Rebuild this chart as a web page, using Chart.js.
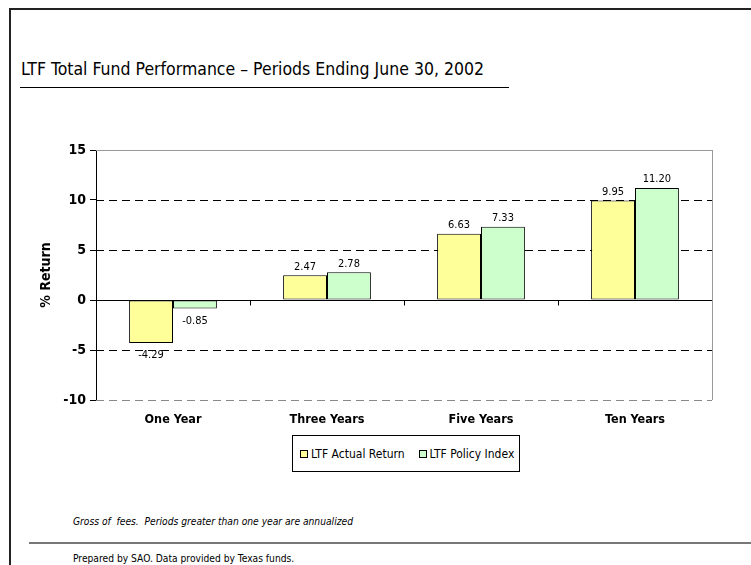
<!DOCTYPE html>
<html>
<head>
<meta charset="utf-8">
<script src="https://cdn.jsdelivr.net/npm/chart.js@4/dist/chart.umd.min.js"></script>
<style>
  html, body { margin: 0; padding: 0; background: #fff; }
  body { width: 751px; height: 565px; position: relative; overflow: hidden;
         font-family: "DejaVu Sans Condensed", "DejaVu Sans", sans-serif; color: #000; }
  .frame { position: absolute; left: 9px; top: 8px; right: -4px; bottom: -4px;
           border-left: 2px solid #222; border-top: 2px solid #222; }
  .title { position: absolute; left: 21px; top: 59px; font-size: 17.5px; white-space: nowrap; }
  .title-rule { position: absolute; left: 20px; top: 87px; width: 489px; height: 1px; background: #000; }
  #chart-wrap { position: absolute; left: 0; top: 120px; width: 751px; height: 310px; }
  .legend { position: absolute; left: 292px; top: 435px; width: 228px; height: 37px;
            border: 1px solid #000; box-sizing: border-box; font-size: 12px;
            display: flex; align-items: center; padding-left: 7px; white-space: nowrap; }
  .legend span.sw { display: inline-block; width: 6px; height: 6px; border: 1px solid #000;
                    margin-right: 3px; vertical-align: middle; }
  .legend .item { margin-right: 14px; }
  .note { position: absolute; left: 73px; top: 516px; font-size: 10.2px; font-style: italic; white-space: nowrap; }
  .foot-rule { position: absolute; left: 29px; top: 542px; right: 0; height: 2px; background: #777; }
  .foot { position: absolute; left: 73px; top: 553px; font-size: 10.2px; white-space: nowrap; }
</style>
</head>
<body>
<div class="frame"></div>
<div class="title">LTF Total Fund Performance – Periods Ending June 30, 2002</div>
<div class="title-rule"></div>
<div id="chart-wrap"><canvas id="perfChart"></canvas></div>
<div class="legend" id="legend"></div>
<div class="note">Gross of &nbsp;fees. &nbsp;Periods greater than one year are annualized</div>
<div class="foot-rule"></div>
<div class="foot">Prepared by SAO. Data provided by Texas funds.</div>

<script>
// ===== Chart data =====
const periods = ['One Year', 'Three Years', 'Five Years', 'Ten Years'];
const actualReturn = [-4.29, 2.47, 6.63, 9.95];
const policyIndex = [-0.85, 2.78, 7.33, 11.20];
const yTicks = [-10, -5, 0, 5, 10, 15];

const seriesNames = ['LTF Actual Return', 'LTF Policy Index'];
const seriesColors = ['#FFFF99', '#CCFFCC'];
const FONT = '"DejaVu Sans Condensed", "DejaVu Sans", sans-serif';

// HTML legend
document.getElementById('legend').innerHTML = seriesNames.map((n, i) =>
    `<span class="item"><span class="sw" style="background:${seriesColors[i]}"></span>${n}</span>`
).join('');

// Gridlines, plot border, category ticks on zero line
const gridPlugin = {
    id: 'excelGrid',
    beforeDatasetsDraw(chart) {
        const { ctx, chartArea: a, scales: { y } } = chart;
        ctx.save();
        ctx.lineWidth = 1;
        yTicks.forEach(v => {
            const py = Math.round(y.getPixelForValue(v)) + 0.5;
            if (v === 0) return;
            if (v === 15) {
                ctx.setLineDash([]);
                ctx.strokeStyle = '#999';
            } else if (v === -10) {
                ctx.setLineDash([8, 5]);
                ctx.strokeStyle = '#888';
            } else {
                ctx.setLineDash([8, 5]);
                ctx.strokeStyle = '#000';
            }
            ctx.beginPath();
            ctx.moveTo(a.left, py);
            ctx.lineTo(a.right, py);
            ctx.stroke();
        });
        // right plot border
        ctx.setLineDash([]);
        ctx.strokeStyle = '#999';
        ctx.beginPath();
        ctx.moveTo(Math.round(a.right) + 0.5, a.top);
        ctx.lineTo(Math.round(a.right) + 0.5, a.bottom);
        ctx.stroke();
        ctx.restore();
    },
    afterDatasetsDraw(chart) {
        const { ctx, chartArea: a, scales: { x, y } } = chart;
        const py = Math.round(y.getPixelForValue(0)) + 0.5;
        ctx.save();
        ctx.strokeStyle = '#000';
        ctx.lineWidth = 1;
        ctx.beginPath();
        ctx.moveTo(a.left, py);
        ctx.lineTo(a.right, py);
        for (let i = 0; i < periods.length - 1; i++) {
            const bx = Math.round((x.getPixelForValue(i) + x.getPixelForValue(i + 1)) / 2) + 0.5;
            ctx.moveTo(bx, py);
            ctx.lineTo(bx, py + 5);
        }
        ctx.stroke();

        // value labels
        ctx.fillStyle = '#000';
        ctx.font = '11px ' + FONT;
        ctx.textAlign = 'center';
        chart.data.datasets.forEach((ds, di) => {
            chart.getDatasetMeta(di).data.forEach((bar, i) => {
                const v = ds.data[i];
                const txt = v.toFixed(2);
                if (v >= 0) {
                    ctx.textBaseline = 'bottom';
                    ctx.fillText(txt, bar.x, bar.y - 3);
                } else {
                    ctx.textBaseline = 'top';
                    ctx.fillText(txt, bar.x, bar.y + 7);
                }
            });
        });
        ctx.restore();
    }
};

new Chart(document.getElementById('perfChart').getContext('2d'), {
    type: 'bar',
    data: {
        labels: periods,
        datasets: [
            {
                label: seriesNames[0],
                data: actualReturn,
                backgroundColor: seriesColors[0],
                borderColor: '#000',
                borderWidth: 1,
                borderSkipped: false,
                barPercentage: 1,
                categoryPercentage: 0.57,
            },
            {
                label: seriesNames[1],
                data: policyIndex,
                backgroundColor: seriesColors[1],
                borderColor: '#000',
                borderWidth: 1,
                borderSkipped: false,
                barPercentage: 1,
                categoryPercentage: 0.57,
            }
        ]
    },
    options: {
        responsive: true,
        maintainAspectRatio: false,
        animation: false,
        layout: { padding: { left: 36, right: 39, top: 30, bottom: 0 } },
        plugins: {
            legend: { display: false },
            tooltip: { enabled: false },
        },
        scales: {
            x: {
                grid: { display: false },
                border: { display: false },
                ticks: {
                    color: '#000',
                    padding: 4,
                    font: { size: 12.5, weight: 'bold', family: FONT },
                },
                afterFit(scale) { scale.height = 30; },
            },
            y: {
                min: -10,
                max: 15,
                ticks: {
                    stepSize: 5,
                    color: '#000',
                    padding: 4,
                    font: { size: 14, weight: 'bold', family: FONT },
                },
                grid: {
                    drawOnChartArea: false,
                    drawTicks: true,
                    tickLength: 6,
                    color: '#000',
                },
                border: { display: true, color: '#000', width: 1 },
                title: {
                    display: true,
                    text: '% Return',
                    color: '#000',
                    padding: { top: 2, bottom: 0 },
                    font: { size: 14, weight: 'bold', family: FONT },
                },
                afterFit(scale) { scale.width = 60; },
            }
        }
    },
    plugins: [gridPlugin]
});
</script>
</body>
</html>
